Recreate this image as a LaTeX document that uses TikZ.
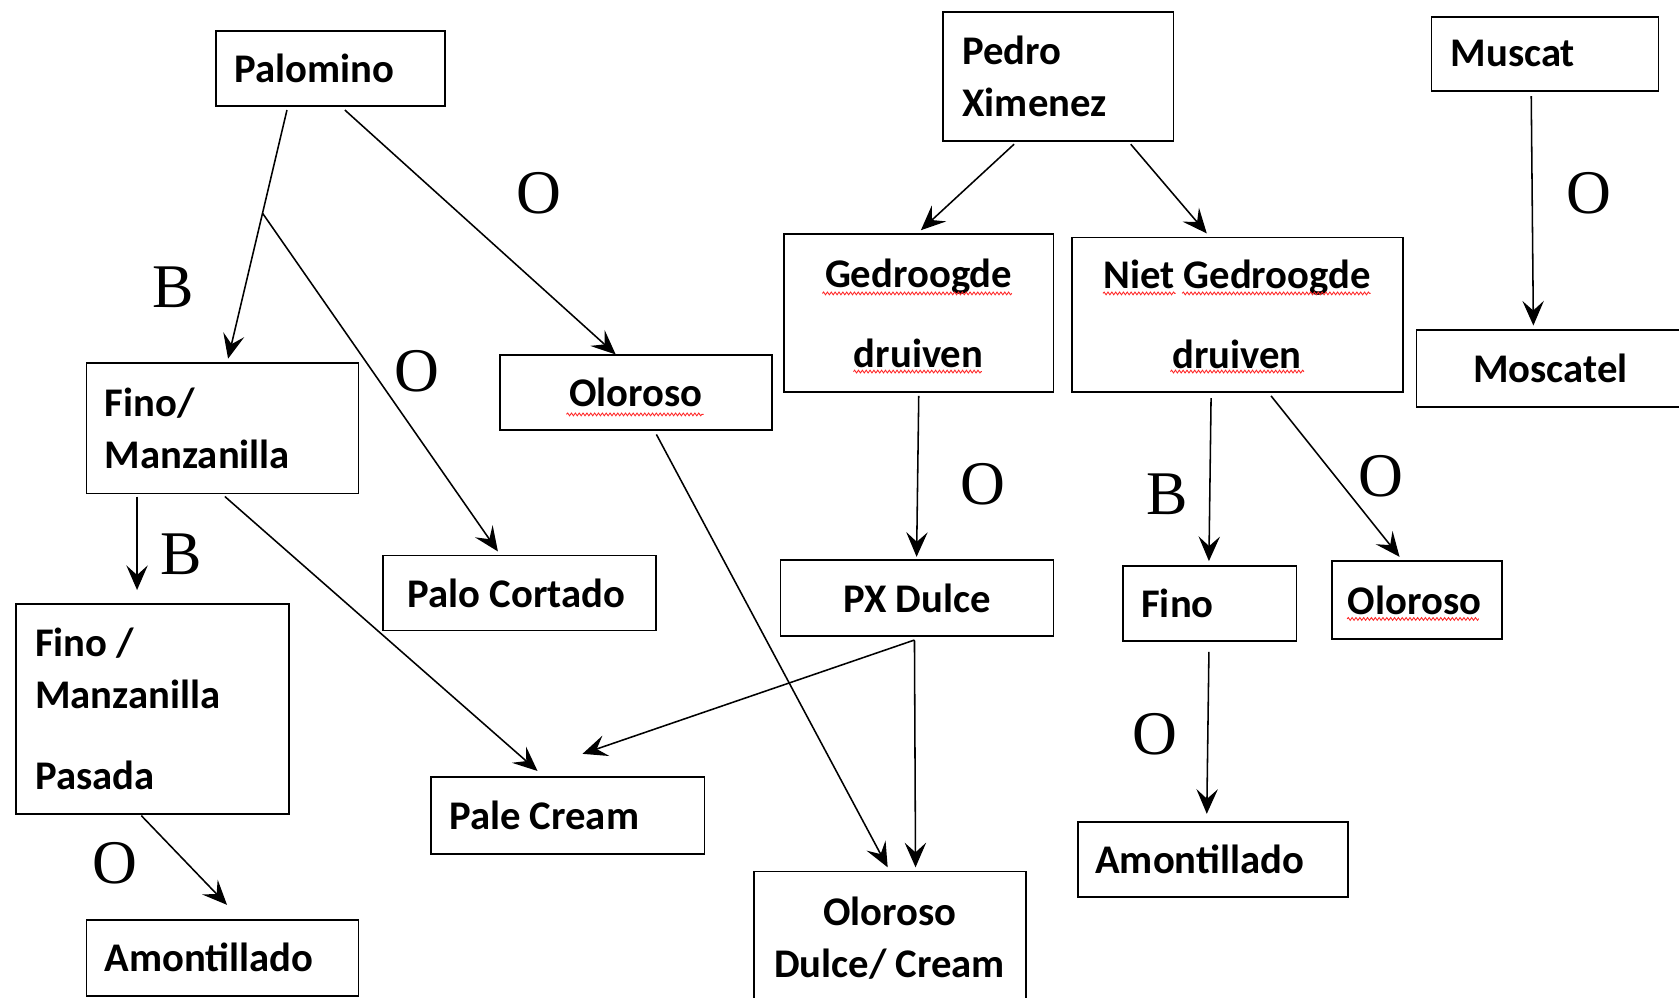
\documentclass[tikz,border=0pt]{standalone}
\usepackage{fontspec}
\setmainfont{Carlito}
\newfontfamily\seriffam{Liberation Serif}
\usetikzlibrary{arrows.meta,calc,decorations.pathmorphing}
\begin{document}
\begin{tikzpicture}[x=1pt,y=-1pt,
  box/.style={draw, line width=1.7pt, rectangle, anchor=north west, inner ysep=0pt,
    font=\bfseries\fontsize{38}{49}\selectfont,
    execute at begin node={\spaceskip=0.22em\relax\xspaceskip=0.22em\relax\hyphenpenalty=10000\relax}},
  arr/.style={line width=1.45pt, -{Stealth[length=23pt,width=20pt,inset=9pt]}},
  lab/.style={font=\seriffam\fontsize{58}{58}\selectfont, inner sep=0pt},
  wave/.style={draw=red!85!white, line width=0.8pt, decorate,
    decoration={snake, amplitude=1.3pt, segment length=3.6pt}}]
\useasboundingbox (0,0) rectangle (1568,932);
\clip (0,0) rectangle (1568,932);
\fill[white] (0,0) rectangle (1568,932);

% boxes
\node[box, minimum height=70pt, text width=180pt, inner xsep=17pt, align=left] (pal) at (201,28) {Palomino};
\node[box, minimum height=122pt, text width=220pt, inner xsep=17pt, align=left] (fm) at (80,338) {Fino/\\Manzanilla};
\node[box, minimum height=196pt, text width=219pt, inner xsep=18pt, align=left] (fmp) at (14,563) {Fino /\\Manzanilla\\[26pt]Pasada};
\node[box, minimum height=71pt, text width=220pt, inner xsep=17pt, align=left] (amL) at (80,858) {Amontillado};
\node[box, minimum height=70pt, text width=220pt, inner xsep=17pt, align=center] (olM) at (466,331) {Oloroso};
\node[box, minimum height=70pt, text width=209pt, inner xsep=23pt, align=left] (pc) at (357,518) {Palo Cortado};
\node[box, minimum height=72pt, text width=221pt, inner xsep=17pt, align=left] (pcr) at (402,725) {Pale Cream};
\node[box, minimum height=121pt, text width=179pt, inner xsep=18pt, align=left] (px) at (880,10) {Pedro\\Ximenez};
\node[box, minimum height=147pt, text width=218pt, inner xsep=17pt, align=center] (ged) at (731,218) {Gedroogde\\[26pt]druiven};
\node[box, minimum height=144pt, text width=275pt, inner xsep=17pt, align=center] (niet) at (1000,221) {Niet Gedroogde\\[26pt]druiven};
\node[box, minimum height=69pt, text width=176pt, inner xsep=18pt, align=left] (mus) at (1336,15) {Muscat};
\node[box, minimum height=72pt, text width=216pt, inner xsep=17pt, align=center] (mos) at (1322,307) {Moscatel};
\node[box, minimum height=71pt, text width=221pt, inner xsep=17pt, align=center] (pxd) at (728,522) {PX Dulce};
\node[box, minimum height=70pt, text width=128pt, inner xsep=17pt, align=left] (fnR) at (1048,528) {Fino};
\node[box, minimum height=73pt, text width=129pt, inner xsep=15pt, align=left] (olR) at (1243,523) {Oloroso};
\node[box, minimum height=70pt, text width=220pt, inner xsep=16pt, align=left] (amR) at (1006,767) {Amontillado};
\node[box, minimum height=125pt, text width=220pt, inner xsep=17pt, align=center] (old) at (703,813) {Oloroso\\Dulce/ Cream};

% spell-check underlines
\path[wave] (529,387) -- (657,387);
\path[wave] (768,274) -- (945,274);
\path[wave] (797,347) -- (917,347);
\path[wave] (1030,274) -- (1098,274);
\path[wave] (1104,274) -- (1280,274);
\path[wave] (1093,347) -- (1218,347);
\path[wave] (1258,578) -- (1381,578);

% connectors
\coordinate (palB) at ([xshift=67pt,yshift=-3pt]pal.south west);
\coordinate (fmT) at ([xshift=133pt,yshift=3pt]fm.north west);
\draw[arr] (palB) -- (fmT);
\coordinate (br) at ($(palB)!0.415!(fmT)$);
\draw[arr] (br) -- ([xshift=108pt,yshift=3pt]pc.north west);
\draw[arr] ([xshift=121pt,yshift=-3pt]pal.south west) -- ([xshift=109pt,yshift=0pt]olM.north west);
\draw[arr] ([xshift=48pt,yshift=-2pt]fm.south west) -- ([xshift=114pt,yshift=12pt]fmp.north west);
\draw[arr] ([xshift=130pt,yshift=-2pt]fm.south west) -- ([xshift=100pt,yshift=5pt]pcr.north west);
\draw[arr] ([xshift=118pt,yshift=-1pt]fmp.south west) -- ([xshift=132pt,yshift=13pt]amL.north west);
\draw[arr] ([xshift=147pt,yshift=-3pt]olM.south west) -- ([xshift=126pt,yshift=3pt]old.north west);
\draw[arr] ([xshift=67pt,yshift=-2pt]px.south west) -- ([xshift=129pt,yshift=3pt]ged.north west);
\draw[arr] ([xshift=176pt,yshift=-2pt]px.south west) -- ([xshift=127pt,yshift=3pt]niet.north west);
\draw[arr] ([xshift=127pt,yshift=-3pt]ged.south west) -- ([xshift=128pt,yshift=2pt]pxd.north west);
\draw[arr] ([xshift=131pt,yshift=-5pt]niet.south west) -- ([xshift=81pt,yshift=4pt]fnR.north west);
\draw[arr] ([xshift=187pt,yshift=-3pt]niet.south west) -- ([xshift=64pt,yshift=3pt]olR.north west);
\draw[arr] ([xshift=94pt,yshift=-4pt]mus.south west) -- ([xshift=110pt,yshift=3pt]mos.north west);
\draw[arr] ([xshift=126pt,yshift=-3pt]pxd.south west) -- ([xshift=142pt,yshift=21pt]pcr.north west);
\draw[arr] ([xshift=126pt,yshift=-3pt]pxd.south west) -- ([xshift=152pt,yshift=3pt]old.north west);
\draw[arr] ([xshift=81pt,yshift=-9pt]fnR.south west) -- ([xshift=121pt,yshift=7pt]amR.north west);

% labels
\node[lab] (l1) at (503,180) {O};
\node[lab] (l2) at (162,268) {B};
\node[lab] (l3) at (389,347) {O};
\node[lab] (l4) at (169,518) {B};
\node[lab] (l5) at (107,806) {O};
\node[lab] (l6) at (918,452) {O};
\node[lab] (l7) at (1090,462) {B};
\node[lab] (l8) at (1290,445) {O};
\node[lab] (l9) at (1079,686) {O};
\node[lab] (l10) at (1484,180) {O};
\end{tikzpicture}
\end{document}
